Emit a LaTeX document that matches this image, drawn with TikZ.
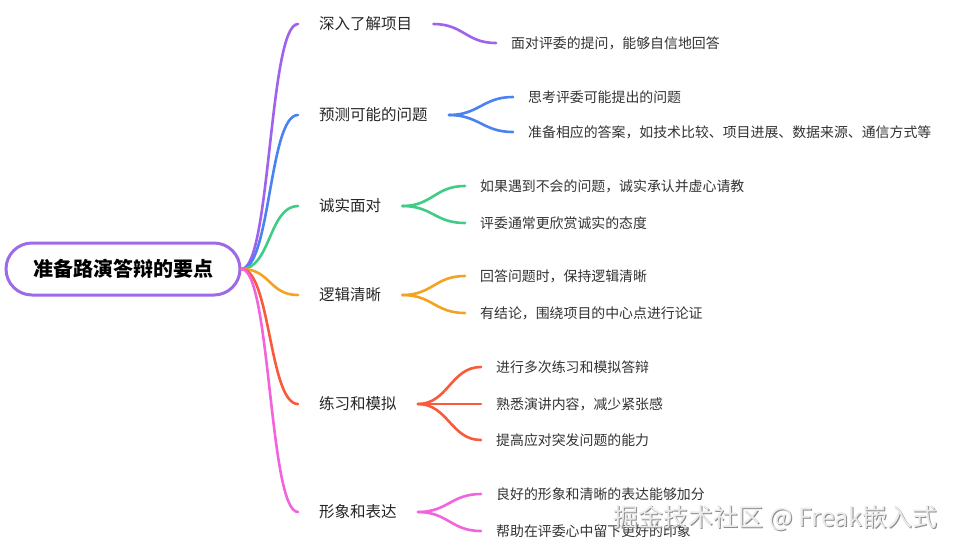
\documentclass[tikz,border=0pt]{standalone}
\usepackage{fontspec}
\setmainfont{Noto Sans CJK SC}
\definecolor{rootc}{HTML}{9D6AE8}
\definecolor{cA}{HTML}{A062EC}
\definecolor{cB}{HTML}{4A82F2}
\definecolor{cC}{HTML}{3FCC85}
\definecolor{cD}{HTML}{F5A31F}
\definecolor{cE}{HTML}{FA5A3C}
\definecolor{cF}{HTML}{F264DC}
\tikzset{
  rootbox/.style={draw=rootc, line width=3pt, rounded corners=26pt, minimum width=234pt, minimum height=52pt, inner sep=0pt, font=\fontsize{20}{24}\selectfont\bfseries, text=black},
  lvone/.style={anchor=west, inner xsep=21pt, inner ysep=0pt, font=\fontsize{15.5}{18}\selectfont, text=black!85},
  lvtwo/.style={anchor=west, inner xsep=15pt, inner ysep=0pt, font=\fontsize{13.9}{16}\selectfont, text=black!80},
  edge/.style={line width=2.6pt, line cap=round},
  wmshadow/.style={font=\fontsize{25}{29}\selectfont, text=black!45},
  wmtext/.style={font=\fontsize{25}{29}\selectfont, text=black!8},
}
\begin{document}
\begin{tikzpicture}[x=1pt,y=-1pt]
\useasboundingbox (0,0) rectangle (955,550);
\fill[white] (0,0) rectangle (955,550);

\node[rootbox] (root) at (123,269) {准备路演答辩的要点};

\node[lvone] (a) at (298,24) {深入了解项目};
\node[lvone] (b) at (298,115) {预测可能的问题};
\node[lvone] (c) at (298,206) {诚实面对};
\node[lvone] (d) at (298,295) {逻辑清晰};
\node[lvone] (e) at (298,404) {练习和模拟};
\node[lvone] (f) at (298,512) {形象和表达};

\node[lvtwo] (a1) at (496,43) {面对评委的提问，能够自信地回答};
\node[lvtwo] (b1) at (513,97) {思考评委可能提出的问题};
\node[lvtwo] (b2) at (513,132) {准备相应的答案，如技术比较、项目进展、数据来源、通信方式等};
\node[lvtwo] (c1) at (465,186) {如果遇到不会的问题，诚实承认并虚心请教};
\node[lvtwo] (c2) at (465,223) {评委通常更欣赏诚实的态度};
\node[lvtwo] (d1) at (465,276) {回答问题时，保持逻辑清晰};
\node[lvtwo] (d2) at (465,313) {有结论，围绕项目的中心点进行论证};
\node[lvtwo] (e1) at (481,367) {进行多次练习和模拟答辩};
\node[lvtwo] (e2) at (481,404) {熟悉演讲内容，减少紧张感};
\node[lvtwo] (e3) at (481,440) {提高应对突发问题的能力};
\node[lvtwo] (f1) at (481,494) {良好的形象和清晰的表达能够加分};
\node[lvtwo] (f2) at (481,531) {帮助在评委心中留下更好的印象};

\foreach \n/\c in {a/cA,b/cB,c/cC,d/cD,e/cE,f/cF}{
  \draw[edge,\c] (root.east) .. controls +(29,0) and +(-29,0) .. (\n.west);
}
\foreach \p/\n/\c in {a/a1/cA,b/b1/cB,b/b2/cB,c/c1/cC,c/c2/cC,d/d1/cD,d/d2/cD,e/e1/cE,e/e2/cE,e/e3/cE,f/f1/cF,f/f2/cF}{
  \draw[edge,\c] (\p.east) .. controls +(30,0) and +(-30,0) .. (\n.west);
}

\node[wmshadow,anchor=west] (wms) at (611,519) {掘金技术社区 @ Freak嵌入式};
\node[wmtext,anchor=west] (wm) at (610,518) {掘金技术社区 @ Freak嵌入式};
\end{tikzpicture}
\end{document}
